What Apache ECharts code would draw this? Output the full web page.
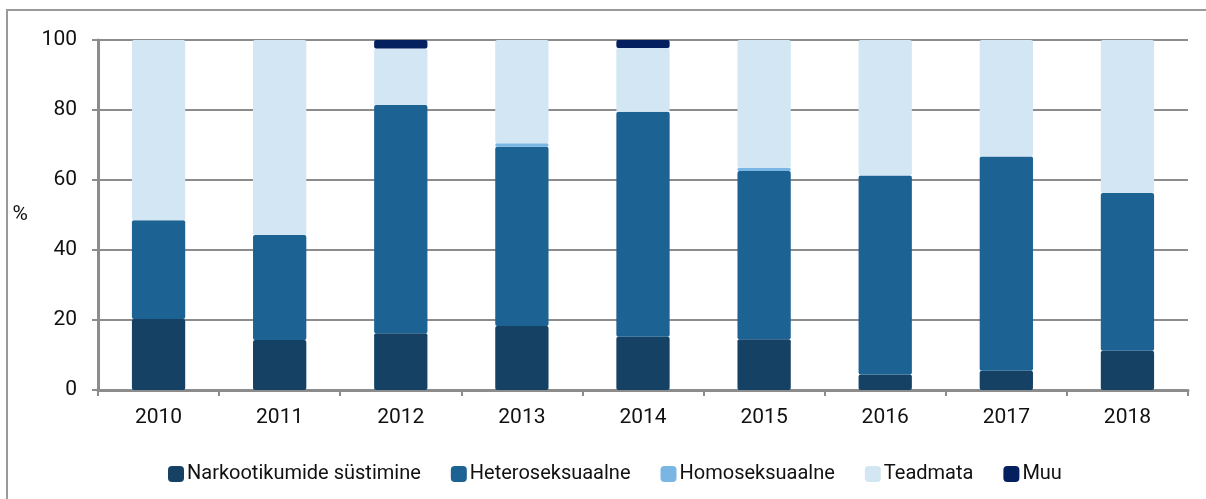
<!DOCTYPE html>
<html>
<head>
<meta charset="utf-8">
<script src="https://cdn.jsdelivr.net/npm/echarts@6/dist/echarts.min.js"></script>
<style>
  html, body { margin: 0; padding: 0; background: #fff; }
  #chart { width: 1206px; height: 499px; }
</style>
</head>
<body>
<div id="chart"></div>
<script>
const years = ['2010', '2011', '2012', '2013', '2014', '2015', '2016', '2017', '2018'];
const narko = [20.3, 14.3, 16.2, 18.3, 15.2, 14.5, 4.4, 5.5, 11.2];
const hetero = [28.2, 30.0, 65.2, 51.2, 64.3, 48.1, 56.9, 61.2, 45.1];
const homo = [0, 0, 0, 1.0, 0, 0.8, 0, 0, 0];
const teadmata = [51.5, 55.7, 16.2, 29.5, 18.2, 36.6, 38.7, 33.3, 43.7];
const muu = [0, 0, 2.4, 0, 2.3, 0, 0, 0, 0];
const yTicks = [0, 20, 40, 60, 80, 100];

const FONT = 'Roboto';
const GREY = '#8c8c8c';

const chart = echarts.init(document.getElementById('chart'));

// one stacked series per group
const makeSeries = (name, data, color) => ({
  name,
  type: 'bar',
  stack: 'total',
  barWidth: '44%',
  itemStyle: { color, borderRadius: 2 },
  emphasis: { disabled: true },
  data
});

chart.setOption({
  animation: false,
  textStyle: { fontFamily: FONT },
  graphic: [{
    type: 'rect',
    shape: { x: 7, y: 10, width: 1400, height: 700 },
    style: { fill: 'none', stroke: '#9a9a9a', lineWidth: 2 },
    silent: true
  }],
  grid: { left: 98, right: 18, top: 40, bottom: 109 },
  legend: {
    left: 163,
    top: 459,
    itemWidth: 16,
    itemHeight: 16,
    itemGap: 30,
    icon: 'roundRect',
    textStyle: { fontFamily: FONT, fontSize: 20, color: '#111', padding: [0, 0, 0, -2] },
    data: ['Narkootikumide süstimine', 'Heteroseksuaalne', 'Homoseksuaalne', 'Teadmata', 'Muu']
  },
  xAxis: {
    type: 'category',
    data: years,
    axisLine: { lineStyle: { color: GREY, width: 3 } },
    axisTick: { show: true, length: 6, lineStyle: { color: GREY, width: 2 } },
    axisLabel: { color: '#111', fontSize: 21, margin: 17 }
  },
  yAxis: {
    type: 'value',
    min: yTicks[0],
    max: yTicks[yTicks.length - 1],
    interval: 20,
    name: '%',
    nameLocation: 'middle',
    nameRotate: 0,
    nameGap: 70,
    nameTextStyle: { color: '#111', fontSize: 21 },
    axisLine: { show: true, lineStyle: { color: GREY, width: 3 } },
    axisTick: { show: true, length: 6, lineStyle: { color: GREY, width: 2 } },
    axisLabel: { color: '#111', fontSize: 21, margin: 21 },
    splitLine: { lineStyle: { color: GREY, width: 2 } }
  },
  series: [
    makeSeries('Narkootikumide süstimine', narko, '#154264'),
    makeSeries('Heteroseksuaalne', hetero, '#1c6293'),
    makeSeries('Homoseksuaalne', homo, '#7ab6e3'),
    makeSeries('Teadmata', teadmata, '#d2e6f4'),
    makeSeries('Muu', muu, '#04205f')
  ]
});
</script>
</body>
</html>
